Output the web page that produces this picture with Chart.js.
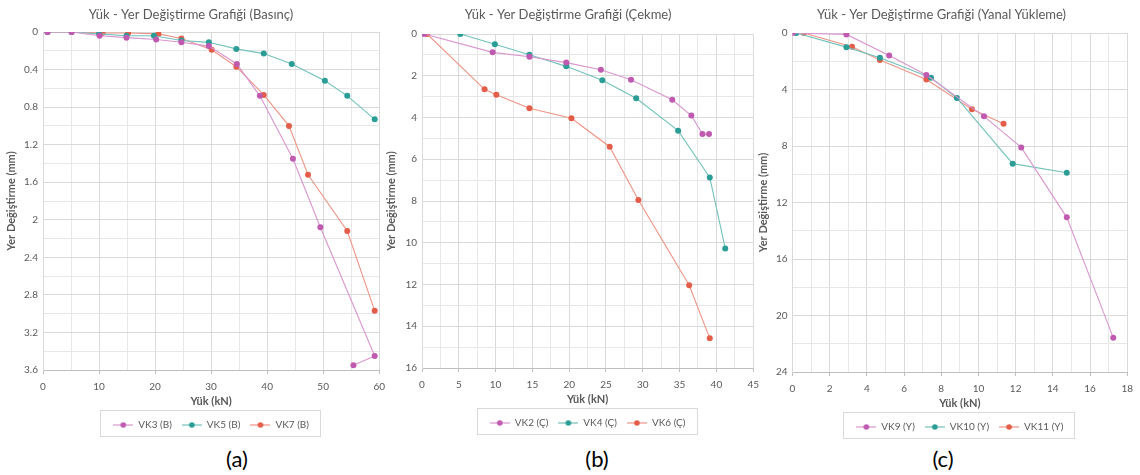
<!DOCTYPE html>
<html>
<head>
<meta charset="utf-8">
<script src="https://cdn.jsdelivr.net/npm/chart.js@4.4.0/dist/chart.umd.min.js"></script>
<style>
  body { margin: 0; background: #fff; width: 1140px; height: 475px; position: relative; overflow: hidden; }
  canvas { position: absolute; top: 0; }
  .cap { position: absolute; top: 446px; font-family: Lato, "Open Sans", sans-serif; font-size: 22px; line-height: 25px; color: #000; transform: translateX(-50%); }
</style>
</head>
<body>
<canvas id="chartA" width="392" height="440" style="left:0px"></canvas>
<canvas id="chartB" width="386" height="438" style="left:380px"></canvas>
<canvas id="chartC" width="388" height="442" style="left:752px"></canvas>
<div class="cap" style="left:237px">(a)</div>
<div class="cap" style="left:597px">(b)</div>
<div class="cap" style="left:943px">(c)</div>

<script>
// (a) Basınç
const vk3Load = [0.8, 5.1, 10.1, 14.9, 20.2, 24.7, 29.6, 34.6, 38.7, 44.6, 49.5, 59.2, 55.4];
const vk3Disp = [0, 0, 0.04, 0.06, 0.08, 0.11, 0.15, 0.34, 0.68, 1.35, 2.08, 3.45, 3.55];
const vk5Load = [0.8, 5.1, 10.0, 14.9, 19.8, 24.7, 29.6, 34.5, 39.4, 44.4, 50.3, 54.3, 59.2];
const vk5Disp = [0, 0, 0.02, 0.04, 0.04, 0.09, 0.11, 0.18, 0.23, 0.34, 0.52, 0.68, 0.93];
const vk7Load = [0.8, 5.1, 10.6, 15.2, 20.6, 24.7, 30.1, 34.5, 39.4, 43.9, 47.3, 54.3, 59.2];
const vk7Disp = [0, 0, 0.01, 0.01, 0.02, 0.07, 0.19, 0.37, 0.67, 1.0, 1.52, 2.12, 2.97];

// (b) Çekme
const vk2Load = [0.3, 9.6, 14.6, 19.6, 24.3, 28.4, 34.0, 36.6, 38.1, 39.0];
const vk2Disp = [0, 0.88, 1.09, 1.37, 1.71, 2.19, 3.15, 3.91, 4.79, 4.79];
const vk4Load = [5.2, 9.9, 14.6, 19.6, 24.5, 29.1, 34.8, 39.1, 41.2];
const vk4Disp = [0, 0.49, 0.99, 1.55, 2.22, 3.08, 4.63, 6.87, 10.27];
const vk6Load = [0.7, 8.5, 10.1, 14.6, 20.3, 25.5, 29.4, 36.3, 39.1];
const vk6Disp = [0, 2.65, 2.91, 3.56, 4.04, 5.4, 7.95, 12.04, 14.58];

// (c) Yanal Yükleme
const vk9Load = [0, 2.9, 5.2, 7.2, 10.3, 12.3, 14.75, 17.25];
const vk9Disp = [0, 0.1, 1.6, 2.97, 5.9, 8.1, 13.05, 21.57];
const vk10Load = [0.2, 2.9, 4.7, 7.45, 8.84, 11.84, 14.75];
const vk10Disp = [0, 1.0, 1.75, 3.16, 4.6, 9.25, 9.89];
const vk11Load = [0.6, 3.2, 4.7, 7.2, 9.65, 11.35];
const vk11Disp = [0, 0.97, 1.91, 3.3, 5.4, 6.42];

const purple = ['#C05AB0', '#D995CF'];
const teal = ['#2A9D96', '#72C2BC'];
const red = ['#E35D48', '#EE9385'];

Chart.defaults.font.family = 'Lato, "Open Sans", sans-serif';
Chart.defaults.color = '#595959';

function pts(xs, ys) {
    return xs.map((x, i) => ({ x: x, y: ys[i] }));
}

// little line + dot picture for the legend
function legendIcon(c) {
    const cv = document.createElement('canvas');
    cv.width = 20; cv.height = 8;
    const g = cv.getContext('2d');
    g.strokeStyle = c[1];
    g.lineWidth = 1.2;
    g.beginPath(); g.moveTo(0, 4); g.lineTo(20, 4); g.stroke();
    g.fillStyle = c[0];
    g.beginPath(); g.arc(10, 4, 2.8, 0, Math.PI * 2); g.fill();
    return cv;
}

function series(label, xs, ys, c) {
    return {
        label: label,
        data: pts(xs, ys),
        showLine: true,
        borderColor: c[1],
        borderWidth: 1.1,
        backgroundColor: c[0],
        pointBackgroundColor: c[0],
        pointBorderColor: c[0],
        pointBorderWidth: 0,
        pointRadius: 3,
        pointHoverRadius: 3,
        icon: legendIcon(c)
    };
}

function isMajor(v, major) {
    const r = v / major;
    return Math.abs(r - Math.round(r)) < 1e-6;
}

function tickLabel(major) {
    return function(v) {
        return isMajor(v, major) ? String(+v.toFixed(2)) : '';
    };
}

const legendBorder = {
    id: 'legendBorder',
    afterDraw(chart) {
        const boxes = chart.legend && chart.legend.legendHitBoxes;
        if (!boxes || !boxes.length) return;
        const l = Math.min(...boxes.map(b => b.left));
        const r = Math.max(...boxes.map(b => b.left + b.width));
        const t = boxes[0].top;
        const h = boxes[0].height;
        const ctx = chart.ctx;
        ctx.save();
        ctx.strokeStyle = '#d9d9d9';
        ctx.lineWidth = 1;
        ctx.strokeRect(Math.round(l - 13) + 0.5, Math.round(t - 10) + 0.5, Math.round(r - l + 24), Math.round(h + 16));
        ctx.restore();
    }
};

function buildChart(id, title, datasets, xr, yr, yWidth, padRight, titlePadBottom) {
    return new Chart(document.getElementById(id), {
        type: 'scatter',
        data: { datasets: datasets },
        plugins: [legendBorder],
        options: {
            responsive: false,
            animation: false,
            layout: { padding: { left: 0, right: padRight, top: 0, bottom: 0 } },
            plugins: {
                title: {
                    display: true,
                    text: title,
                    color: '#595959',
                    font: { size: 13, weight: 'normal', lineHeight: 1.2 },
                    padding: { top: 7, bottom: titlePadBottom }
                },
                legend: {
                    position: 'bottom',
                    fullSize: false,
                    labels: {
                        usePointStyle: true,
                        pointStyleWidth: 20,
                        padding: 10,
                        color: '#595959',
                        font: { size: 10 },
                        generateLabels: function(chart) {
                            const items = Chart.defaults.plugins.legend.labels.generateLabels(chart);
                            items.forEach(it => { it.pointStyle = chart.data.datasets[it.datasetIndex].icon; });
                            return items;
                        }
                    }
                },
                tooltip: { enabled: false }
            },
            scales: {
                x: {
                    type: 'linear',
                    position: 'bottom',
                    min: 0,
                    max: xr.max,
                    afterFit: function(s) { s.height = 40; },
                    border: { color: '#bfbfbf' },
                    grid: {
                        color: ctx => (ctx.tick && isMajor(ctx.tick.value, xr.major)) ? '#d9d9d9' : '#e7e7e7',
                        tickLength: 4,
                        tickColor: ctx => (ctx.tick && isMajor(ctx.tick.value, xr.major)) ? '#bfbfbf' : 'rgba(0,0,0,0)'
                    },
                    ticks: {
                        stepSize: xr.step,
                        autoSkip: false,
                        maxRotation: 0,
                        padding: 7,
                        color: '#595959',
                        font: { size: 10 },
                        callback: tickLabel(xr.major)
                    },
                    title: {
                        display: true,
                        text: 'Yük (kN)',
                        color: '#595959',
                        font: { size: 11, weight: 'bold' },
                        padding: { top: 0, bottom: 2 }
                    }
                },
                y: {
                    type: 'linear',
                    reverse: true,
                    min: 0,
                    max: yr.max,
                    afterFit: function(s) { s.width = yWidth; },
                    border: { color: '#d9d9d9' },
                    grid: {
                        color: ctx => (ctx.tick && isMajor(ctx.tick.value, yr.major)) ? '#d9d9d9' : '#e7e7e7',
                        tickLength: 3,
                        tickColor: 'rgba(0,0,0,0)'
                    },
                    ticks: {
                        stepSize: yr.step,
                        autoSkip: false,
                        padding: 2,
                        color: '#595959',
                        font: { size: 10 },
                        callback: tickLabel(yr.major)
                    },
                    title: {
                        display: true,
                        text: 'Yer Değiştirme (mm)',
                        color: '#595959',
                        font: { size: 11, weight: 'bold' },
                        padding: { top: 5, bottom: 0 }
                    }
                }
            }
        }
    });
}

buildChart('chartA', 'Yük - Yer Değiştirme Grafiği (Basınç)', [
    series('VK3 (B)', vk3Load, vk3Disp, purple),
    series('VK5 (B)', vk5Load, vk5Disp, teal),
    series('VK7 (B)', vk7Load, vk7Disp, red)
], { max: 60, step: 5, major: 10 }, { max: 3.6, step: 0.2, major: 0.4 }, 43, 10, 9.4);

buildChart('chartB', 'Yük - Yer Değiştirme Grafiği (Çekme)', [
    series('VK2 (Ç)', vk2Load, vk2Disp, purple),
    series('VK4 (Ç)', vk4Load, vk4Disp, teal),
    series('VK6 (Ç)', vk6Load, vk6Disp, red)
], { max: 45, step: 2.5, major: 5 }, { max: 16, step: 1, major: 2 }, 42, 10, 11.4);

buildChart('chartC', 'Yük - Yer Değiştirme Grafiği (Yanal Yükleme)', [
    series('VK9 (Y)', vk9Load, vk9Disp, purple),
    series('VK10 (Y)', vk10Load, vk10Disp, teal),
    series('VK11 (Y)', vk11Load, vk11Disp, red)
], { max: 18, step: 1, major: 2 }, { max: 24, step: 2, major: 4 }, 40.5, 9, 10.4);
</script>
</body>
</html>
